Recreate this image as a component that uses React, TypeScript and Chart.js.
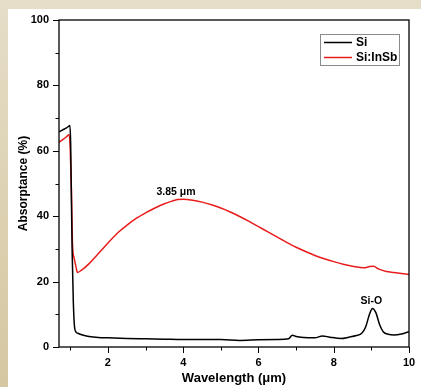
import React, { useEffect, useRef } from 'react';
import { Chart, registerables } from 'chart.js';

Chart.register(...registerables);

const siX = [0.7, 0.8, 0.9, 0.97, 0.99, 1.01, 1.03, 1.05, 1.08, 1.11, 1.15, 1.2, 1.35, 1.5, 1.75, 2.0, 2.5, 3.0, 3.5, 4.0, 4.5, 5.0, 5.5, 6.0, 6.5, 6.8, 6.9, 7.0, 7.2, 7.5, 7.7, 7.9, 8.2, 8.4, 8.6, 8.75, 8.85, 8.95, 9.03, 9.12, 9.22, 9.32, 9.45, 9.6, 9.8, 10.0];
const siY = [65.8, 66.4, 67.0, 67.6, 67.7, 62, 45, 29, 14, 6.5, 4.6, 4.2, 3.6, 3.2, 2.9, 2.8, 2.6, 2.5, 2.4, 2.3, 2.3, 2.3, 2.0, 2.2, 2.3, 2.5, 3.6, 3.2, 2.9, 2.8, 3.4, 3.0, 2.6, 3.0, 3.5, 4.3, 6.2, 10, 11.8, 10.5, 6.8, 4.6, 3.9, 3.7, 4.0, 4.7];

const inX = [0.7, 0.8, 0.9, 0.97, 1.0, 1.03, 1.06, 1.1, 1.15, 1.19, 1.3, 1.5, 1.7, 1.9, 2.1, 2.3, 2.5, 2.75, 3.0, 3.25, 3.5, 3.7, 3.85, 4.0, 4.25, 4.5, 4.75, 5.0, 5.25, 5.5, 5.75, 6.0, 6.25, 6.5, 6.75, 7.0, 7.25, 7.5, 7.75, 8.0, 8.25, 8.5, 8.8, 8.95, 9.05, 9.2, 9.4, 9.6, 9.8, 10.0];
const inY = [62.6, 63.4, 64.3, 65.0, 60, 48, 31, 27.3, 24.6, 22.8, 23.5, 25.5, 28.0, 30.5, 33.0, 35.3, 37.2, 39.3, 41.0, 42.5, 43.8, 44.6, 45.1, 45.2, 44.9, 44.3, 43.5, 42.5, 41.3, 39.9, 38.4, 36.8, 35.2, 33.6, 32.0, 30.5, 29.2, 28.0, 27.0, 26.1, 25.3, 24.7, 24.2, 24.6, 24.7, 23.8, 23.1, 22.8, 22.5, 22.2];

const seriesNames = ['Si', 'Si:InSb'];
const seriesColors = ['#000000', '#e81c1c'];

const xTickValues = [1, 2, 3, 4, 5, 6, 7, 8, 9, 10];
const xTickLabels = ['', '2', '', '4', '', '6', '', '8', '', '10'];
const yTickValues = [0, 10, 20, 30, 40, 50, 60, 70, 80, 90, 100];
const yTickLabels = ['0', '', '20', '', '40', '', '60', '', '80', '', '100'];

const noteText = ['3.85 \u03bcm', 'Si-O'];
const noteX = [3.81, 9.0];
const noteY = [45.2, 11.8];

const FONT = "'Liberation Sans', Arial, Helvetica, sans-serif";

const decorPlugin = {
  id: 'decor',
  afterDraw(chart: any) {
    const { ctx, chartArea: a, scales } = chart;
    const xs = scales.x;
    const ys = scales.y;
    ctx.save();
    ctx.strokeStyle = '#000';
    ctx.lineWidth = 1;
    ctx.beginPath();
    xTickValues.forEach((v, i) => {
      const px = Math.round(xs.getPixelForValue(v)) + 0.5;
      const len = xTickLabels[i] ? 6 : 3.5;
      ctx.moveTo(px, a.bottom);
      ctx.lineTo(px, a.bottom + len);
    });
    yTickValues.forEach((v, i) => {
      const py = Math.round(ys.getPixelForValue(v)) + 0.5;
      const len = yTickLabels[i] ? 6 : 3.5;
      ctx.moveTo(a.left, py);
      ctx.lineTo(a.left - len, py);
    });
    ctx.stroke();
    ctx.lineWidth = 1.3;
    ctx.strokeRect(a.left, a.top, a.right - a.left, a.bottom - a.top);
    ctx.fillStyle = '#000';
    ctx.font = `bold 10.5px ${FONT}`;
    ctx.textAlign = 'center';
    ctx.textBaseline = 'middle';
    noteText.forEach((t, i) => {
      ctx.fillText(t, xs.getPixelForValue(noteX[i]), ys.getPixelForValue(noteY[i]) - 7.5);
    });
    const bw = 79;
    const bh = 31;
    const bx = a.right - 10 - bw;
    const by = a.top + 14;
    ctx.lineWidth = 1;
    ctx.strokeStyle = '#8a8a8a';
    ctx.strokeRect(Math.round(bx) + 0.5, Math.round(by) + 0.5, bw, bh);
    ctx.font = `bold 12px ${FONT}`;
    ctx.textAlign = 'left';
    seriesNames.forEach((n, i) => {
      const ly = by + 8.5 + i * 15;
      ctx.strokeStyle = seriesColors[i];
      ctx.lineWidth = 1.5;
      ctx.beginPath();
      ctx.moveTo(bx + 4, ly);
      ctx.lineTo(bx + 32, ly);
      ctx.stroke();
      ctx.fillStyle = '#000';
      ctx.fillText(n, bx + 36, ly + 0.5);
    });
    ctx.restore();
  },
};

export default function App() {
  const ref = useRef<HTMLCanvasElement>(null);
  useEffect(() => {
    const tickFont = { family: FONT, size: 11, weight: 'bold' as const };
    const chart = new Chart(ref.current as HTMLCanvasElement, {
      type: 'line',
      data: {
        datasets: [
          {
            label: seriesNames[0],
            data: siX.map((x, i) => ({ x, y: siY[i] })),
            borderColor: seriesColors[0],
            borderWidth: 1.5,
            pointRadius: 0,
            cubicInterpolationMode: 'monotone',
          },
          {
            label: seriesNames[1],
            data: inX.map((x, i) => ({ x, y: inY[i] })),
            borderColor: seriesColors[1],
            borderWidth: 1.5,
            pointRadius: 0,
            cubicInterpolationMode: 'monotone',
          },
        ],
      },
      options: {
        animation: false,
        responsive: false,
        maintainAspectRatio: false,
        layout: { padding: { left: 0, top: 11, right: 12, bottom: 0 } },
        plugins: { legend: { display: false }, tooltip: { enabled: false } },
        scales: {
          x: {
            type: 'linear',
            min: 0.7,
            max: 10,
            afterBuildTicks: (s: any) => {
              s.ticks = xTickValues.map((v) => ({ value: v }));
            },
            afterFit: (s: any) => {
              s.height = 40;
              s.paddingLeft = 0;
              s.paddingRight = 0;
            },
            ticks: {
              autoSkip: false,
              maxRotation: 0,
              padding: 3,
              color: '#000',
              font: tickFont,
              callback: (v: any) => {
                const i = xTickValues.indexOf(Number(v));
                return i >= 0 ? xTickLabels[i] : '';
              },
            },
            grid: { drawOnChartArea: false, drawTicks: true, tickLength: 6, color: 'rgba(0,0,0,0)' },
            border: { display: false },
            title: {
              display: true,
              text: 'Wavelength (\u03bcm)',
              color: '#000',
              font: { family: FONT, size: 13, weight: 'bold' },
              padding: { top: 0, bottom: 1 },
            },
          },
          y: {
            type: 'linear',
            min: 0,
            max: 100,
            afterBuildTicks: (s: any) => {
              s.ticks = yTickValues.map((v) => ({ value: v }));
            },
            afterFit: (s: any) => {
              s.width = 51;
              s.paddingTop = 0;
              s.paddingBottom = 0;
            },
            ticks: {
              autoSkip: false,
              padding: 4,
              color: '#000',
              font: tickFont,
              callback: (v: any) => {
                const i = yTickValues.indexOf(Number(v));
                return i >= 0 ? yTickLabels[i] : '';
              },
            },
            grid: { drawOnChartArea: false, drawTicks: true, tickLength: 6, color: 'rgba(0,0,0,0)' },
            border: { display: false },
            title: {
              display: true,
              text: 'Absorptance (%)',
              color: '#000',
              font: { family: FONT, size: 12, weight: 'bold' },
              padding: { top: 8, bottom: 0 },
            },
          },
        },
      },
      plugins: [decorPlugin],
    });
    return () => chart.destroy();
  }, []);

  return (
    <div
      style={{
        position: 'fixed',
        left: 0,
        top: 0,
        width: 421,
        height: 387,
        background: 'linear-gradient(to bottom, #e5dec8 0%, #ddd2b4 50%, #d5c7a1 100%)',
      }}
    >
      <div style={{ position: 'absolute', left: 8, top: 9, width: 413, height: 378, background: '#fff' }}>
        <canvas ref={ref} width={413} height={378} style={{ display: 'block', width: 413, height: 378 }} />
      </div>
    </div>
  );
}
